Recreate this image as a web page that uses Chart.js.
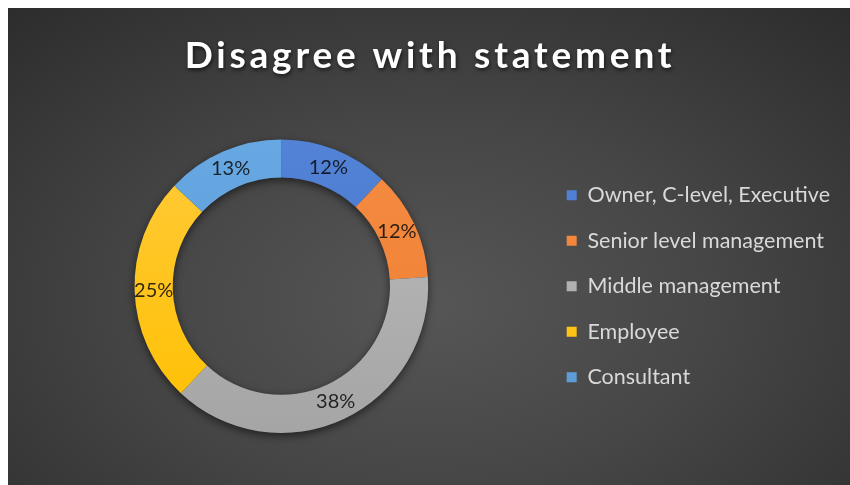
<!DOCTYPE html>
<html>
<head>
<meta charset="utf-8">
<script src="https://cdn.jsdelivr.net/npm/chart.js@4"></script>
<style>
  body { margin: 0; background: #fff; }
  #ChartContainer {
    position: absolute; left: 8px; top: 8px; width: 842px; height: 477px;
    background: radial-gradient(ellipse 75% 85% at 50% 62%, #565656 0%, #464646 45%, #2c2c2c 100%);
  }
</style>
</head>
<body>
<div id="ChartContainer"><canvas id="myChart" width="842" height="477"></canvas></div>
<script>
const chartTitle = 'Disagree with statement';
const roles = ['Owner, C-level, Executive', 'Senior level management', 'Middle management', 'Employee', 'Consultant'];
const shares = [12, 12, 38, 25, 13];
const sliceColors = ['#4472C4', '#ED7D31', '#A5A5A5', '#FFC000', '#5B9BD5'];
const sliceTops = ['#5283d6', '#f58c42', '#bcbcbc', '#ffca3a', '#68a8e2'];

Chart.defaults.font.family = 'Lato';

// soft shadow under the ring, drawn before the slices
const ringShadow = {
    id: 'ringShadow',
    beforeDatasetsDraw(chart) {
        const arc = chart.getDatasetMeta(0).data[0];
        if (!arc) return;
        const ctx = chart.ctx;
        ctx.save();
        ctx.shadowColor = 'rgba(0,0,0,0.55)';
        ctx.shadowBlur = 9;
        ctx.shadowOffsetY = 3;
        ctx.fillStyle = '#3a3a3a';
        ctx.beginPath();
        ctx.arc(arc.x, arc.y, arc.outerRadius, 0, Math.PI * 2);
        ctx.arc(arc.x, arc.y, arc.innerRadius, 0, Math.PI * 2, true);
        ctx.fill();
        ctx.restore();
    }
};

// percentage labels in the middle of each slice
const sliceLabels = {
    id: 'sliceLabels',
    afterDatasetsDraw(chart) {
        const ctx = chart.ctx;
        const meta = chart.getDatasetMeta(0);
        ctx.save();
        ctx.font = '20px Lato';
        ctx.fillStyle = 'rgba(10,10,10,0.85)';
        ctx.textAlign = 'center';
        ctx.textBaseline = 'middle';
        meta.data.forEach((a, i) => {
            const p = a.tooltipPosition();
            ctx.fillText(shares[i] + '%', p.x, p.y);
        });
        ctx.restore();
    }
};

// spaced-out title with a drop shadow: wrap the title box's draw
const titleStyle = {
    id: 'titleStyle',
    afterLayout(chart) {
        const t = chart.titleBlock;
        if (!t || t._styled) return;
        const draw = t.draw.bind(t);
        t.draw = function (area) {
            const ctx = chart.ctx;
            ctx.save();
            ctx.letterSpacing = '3.8px';
            ctx.shadowColor = 'rgba(0,0,0,0.65)';
            ctx.shadowBlur = 4;
            ctx.shadowOffsetX = 1;
            ctx.shadowOffsetY = 2;
            draw(area);
            ctx.restore();
        };
        t._styled = true;
    }
};

function sliceFill(context) {
    const area = context.chart.chartArea;
    if (!area) return sliceColors[context.dataIndex];
    const g = context.chart.ctx.createLinearGradient(0, area.top, 0, area.bottom);
    g.addColorStop(0, sliceTops[context.dataIndex]);
    g.addColorStop(1, sliceColors[context.dataIndex]);
    return g;
}

const ctx = document.getElementById('myChart');

new Chart(ctx, {
    type: 'doughnut',
    data: {
        labels: roles,
        datasets: [{
            data: shares,
            backgroundColor: sliceFill,
            borderWidth: 0,
            hoverOffset: 0
        }]
    },
    options: {
        responsive: false,
        animation: false,
        cutout: '74%',
        layout: {
            padding: { left: 12, right: 10, top: 0, bottom: 52 }
        },
        plugins: {
            title: {
                display: true,
                text: chartTitle,
                color: '#ffffff',
                font: { family: 'Lato', size: 37, weight: 'bold' },
                padding: { top: 26, bottom: 61 }
            },
            legend: {
                position: 'right',
                fullSize: false,
                labels: {
                    color: '#d9d9d9',
                    font: { size: 21.5 },
                    boxWidth: 10,
                    boxHeight: 10,
                    padding: 24
                }
            },
            tooltip: { enabled: false }
        }
    },
    plugins: [ringShadow, sliceLabels, titleStyle]
});
</script>
</body>
</html>
